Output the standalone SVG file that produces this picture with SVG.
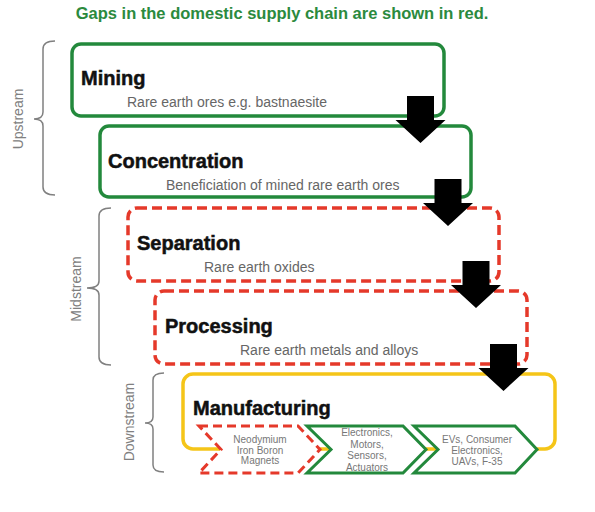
<svg xmlns="http://www.w3.org/2000/svg" width="595" height="512" viewBox="0 0 595 512">
<style>
.bg{fill:#ffffff}
.title{font-family:"Liberation Sans",Arial,sans-serif;font-weight:bold;font-size:16.5px;fill:#2b8a3e}
.gbox{fill:#ffffff;stroke:#23893c;stroke-width:3.5}
.rbox{fill:#ffffff;stroke:#e5392a;stroke-width:3.5;stroke-dasharray:10 5}
.ybox{fill:#ffffff;stroke:#f5c518;stroke-width:3.5}
.head{font-family:"Liberation Sans",Arial,sans-serif;font-weight:bold;font-size:20px;fill:#111111;stroke:#111111;stroke-width:0.5}
.sub{font-family:"Liberation Sans",Arial,sans-serif;font-size:14px;fill:#666666}
.side{font-family:"Liberation Sans",Arial,sans-serif;font-size:14px;fill:#808080}
.brace{fill:none;stroke:#808080;stroke-width:1.5}
.gchev{fill:#ffffff;stroke:#23893c;stroke-width:3}
.rchev{fill:#ffffff;stroke:#e5392a;stroke-width:3;stroke-dasharray:9 5}
.ctext{font-family:"Liberation Sans",Arial,sans-serif;font-size:10px;fill:#777777;text-anchor:middle}
.arrow{fill:#000000}
</style>
<defs>
<path id="downArrow" d="M-13.5,0 H13.5 V24 H25 L0,47 L-25,24 H-13.5 Z"/>
</defs>
<rect class="bg" x="0" y="0" width="595" height="512"/>
<text class="title" x="282" y="19" text-anchor="middle">Gaps in the domestic supply chain are shown in red.</text>

<g id="upstream">
<path class="brace" d="M55,41 Q43,41 43,49 V112 Q43,119 34,119 Q43,119 43,126 V187 Q43,195 55,195"/>
<text class="side" transform="translate(23,119) rotate(-90)" text-anchor="middle">Upstream</text>
</g>
<g id="midstream">
<path class="brace" d="M111,208 Q99,208 99,216 V281 Q99,288 87,288 Q99,288 99,295 V357 Q99,365 111,365"/>
<text class="side" transform="translate(81,289) rotate(-90)" text-anchor="middle">Midstream</text>
</g>
<g id="downstream">
<path class="brace" d="M164,373 Q153,373 153,380 V417 Q153,423 145,423 Q153,423 153,429 V465 Q153,472 164,472"/>
<text class="side" transform="translate(134,422) rotate(-90)" text-anchor="middle">Downstream</text>
</g>

<g id="mining">
<rect class="gbox" x="72" y="44" width="372" height="72" rx="9"/>
<text class="head" x="81" y="85">Mining</text>
<text class="sub" x="127" y="107">Rare earth ores e.g. bastnaesite</text>
</g>
<g id="concentration">
<rect class="gbox" x="100" y="126" width="371" height="71" rx="9"/>
<text class="head" x="108" y="168">Concentration</text>
<text class="sub" x="166" y="190">Beneficiation of mined rare earth ores</text>
</g>
<g id="separation">
<rect class="rbox" x="128" y="208" width="371" height="73" rx="9"/>
<text class="head" x="137" y="250">Separation</text>
<text class="sub" x="204" y="272">Rare earth oxides</text>
</g>
<g id="processing">
<rect class="rbox" x="155" y="291" width="372" height="73" rx="9"/>
<text class="head" x="165" y="333">Processing</text>
<text class="sub" x="240" y="355">Rare earth metals and alloys</text>
</g>
<g id="manufacturing">
<rect class="ybox" x="183" y="374" width="372" height="75" rx="10"/>
<text class="head" x="193" y="415">Manufacturing</text>
</g>

<g id="magnets">
<path class="rchev" d="M199,426 H298 L320,449.5 L298,473 H199 L221,449.5 Z"/>
<text class="ctext" x="260" y="443">Neodymium</text>
<text class="ctext" x="260" y="453.5">Iron Boron</text>
<text class="ctext" x="260" y="464">Magnets</text>
</g>
<g id="components">
<path class="gchev" d="M307,426 H403 L426,449.5 L403,473 H307 L331,449.5 Z"/>
<text class="ctext" x="367" y="436">Electronics,</text>
<text class="ctext" x="367" y="447.5">Motors,</text>
<text class="ctext" x="367" y="459">Sensors,</text>
<text class="ctext" x="367" y="470.5">Actuators</text>
</g>
<g id="end-products">
<path class="gchev" d="M414,426 H515 L537,449.5 L515,473 H414 L438,449.5 Z"/>
<text class="ctext" x="477" y="443">EVs, Consumer</text>
<text class="ctext" x="477" y="454">Electronics,</text>
<text class="ctext" x="477" y="465">UAVs, F-35</text>
</g>

<g id="connectors">
<use href="#downArrow" class="arrow" transform="translate(420.5,96)"/>
<use href="#downArrow" class="arrow" transform="translate(448,179)"/>
<use href="#downArrow" class="arrow" transform="translate(476,261)"/>
<use href="#downArrow" class="arrow" transform="translate(503.5,344)"/>
</g>
</svg>
